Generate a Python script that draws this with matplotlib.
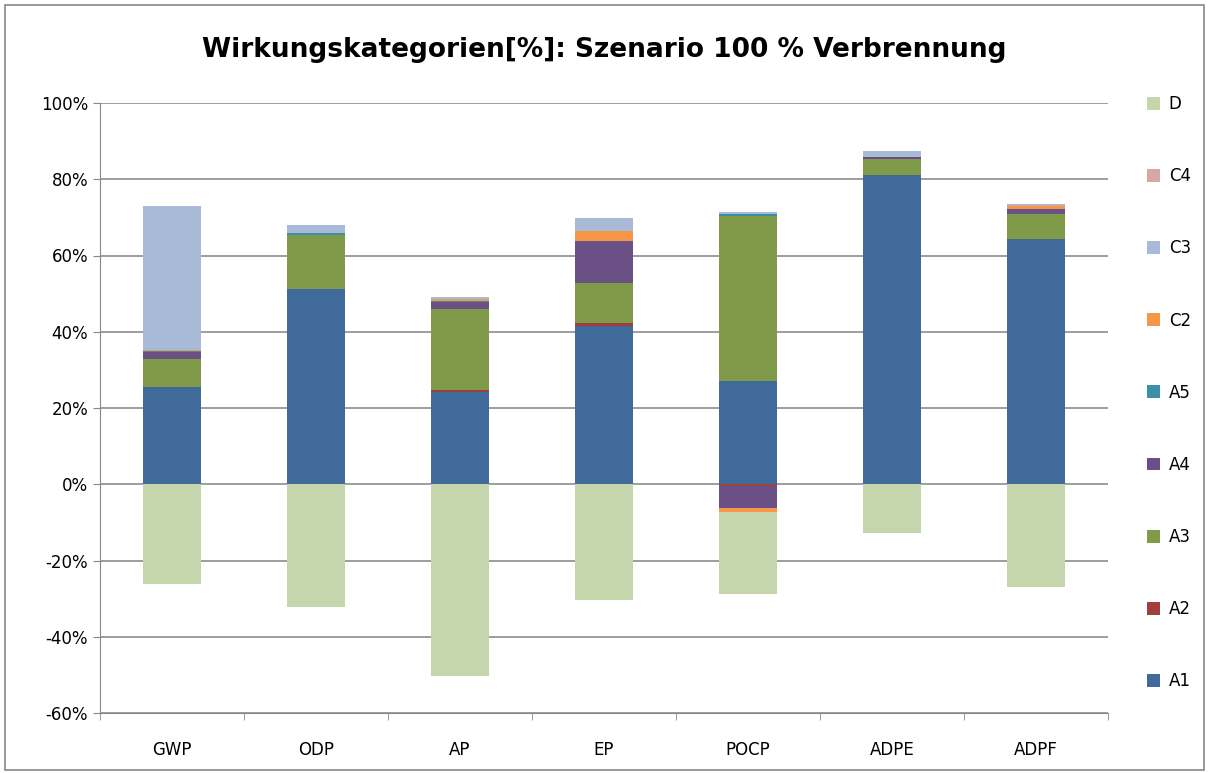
import matplotlib
matplotlib.use("Agg")
import matplotlib.pyplot as plt
import numpy as np

# impact categories
categories = ['GWP', 'ODP', 'AP', 'EP', 'POCP', 'ADPE', 'ADPF']
series = ['A1', 'A2', 'A3', 'A4', 'A5', 'C2', 'C3', 'C4', 'D']

# share per module in percent
A1 = [25.4, 51.3, 24.3, 41.4, 27.0, 81.2, 64.4]
A2 = [0.2, 0.0, 0.5, 1.0, -0.4, 0.0, 0.0]
A3 = [7.2, 14.1, 21.2, 10.5, 43.4, 4.1, 6.4]
A4 = [1.8, 0.0, 1.8, 10.8, -5.9, 0.5, 1.4]
A5 = [0.3, 0.5, 0.3, 0.0, 0.5, 0.1, 0.1]
C2 = [0.4, 0.0, 0.5, 2.6, -1.0, 0.0, 0.6]
C3 = [37.8, 2.0, 0.5, 3.5, 0.4, 1.5, 0.4]
C4 = [0.0, 0.0, 0.1, 0.0, 0.0, 0.0, 0.1]
D = [-26.2, -32.2, -50.3, -30.4, -21.4, -12.8, -27.0]

colors = ['#3F6A9A', '#A0403D', '#7F9A48', '#6A5085', '#3A90A6',
          '#F79646', '#A9B9D8', '#D8A6A5', '#C6D6AC']

data = [A1, A2, A3, A4, A5, C2, C3, C4, D]

fig = plt.figure(figsize=(12.09, 7.73), dpi=100)
ax = fig.add_axes([100/1209, 1 - 713/773, 1008/1209, 610/773])

x = np.arange(len(categories))
pos = np.zeros(len(categories))
neg = np.zeros(len(categories))
handles = []
for name, vals, c in zip(series, data, colors):
    v = np.array(vals)
    bottom = np.where(v >= 0, pos, neg)
    b = ax.bar(x, v, 0.4, bottom=bottom, color=c, label=name, zorder=3)
    handles.append(b)
    pos = pos + np.where(v >= 0, v, 0)
    neg = neg + np.where(v < 0, v, 0)

ax.set_xlim(-0.5, 6.5)
ax.set_ylim(-60, 100)
ax.set_yticks(np.arange(-60, 101, 20))
ax.set_yticklabels(['%d%%' % t for t in range(-60, 101, 20)], fontsize=12)
ax.set_xticks(x)
ax.set_xticklabels(categories, fontsize=12)
ax.set_xticks(np.arange(-0.5, 7, 1), minor=True)
ax.tick_params(axis='x', which='major', length=0, pad=20)
ax.tick_params(axis='x', which='minor', length=5, color='#888888')
ax.tick_params(axis='y', length=5, color='#888888')
ax.yaxis.grid(True, color='#8C8C8C', linewidth=1.2, zorder=0)
for s in ['top', 'right']:
    ax.spines[s].set_visible(False)
ax.spines['left'].set_color('#888888')
ax.spines['bottom'].set_color('#888888')

fig.text(0.5, 1 - 50/773, 'Wirkungskategorien[%]: Szenario 100 % Verbrennung',
         ha='center', va='center', fontsize=19, fontweight='bold')

leg = fig.legend(handles[::-1], series[::-1], loc='upper left',
                 bbox_to_anchor=(1132/1209, 1 - 80/773), frameon=False,
                 fontsize=12, labelspacing=3.25, handlelength=0.8,
                 handleheight=0.8, handletextpad=0.5)

fig.patches.append(plt.Rectangle((0.004, 0.004), 0.992, 0.99, transform=fig.transFigure,
                                 fill=False, edgecolor='#888888', linewidth=1.2))

fig.savefig('out.png', dpi=100)
